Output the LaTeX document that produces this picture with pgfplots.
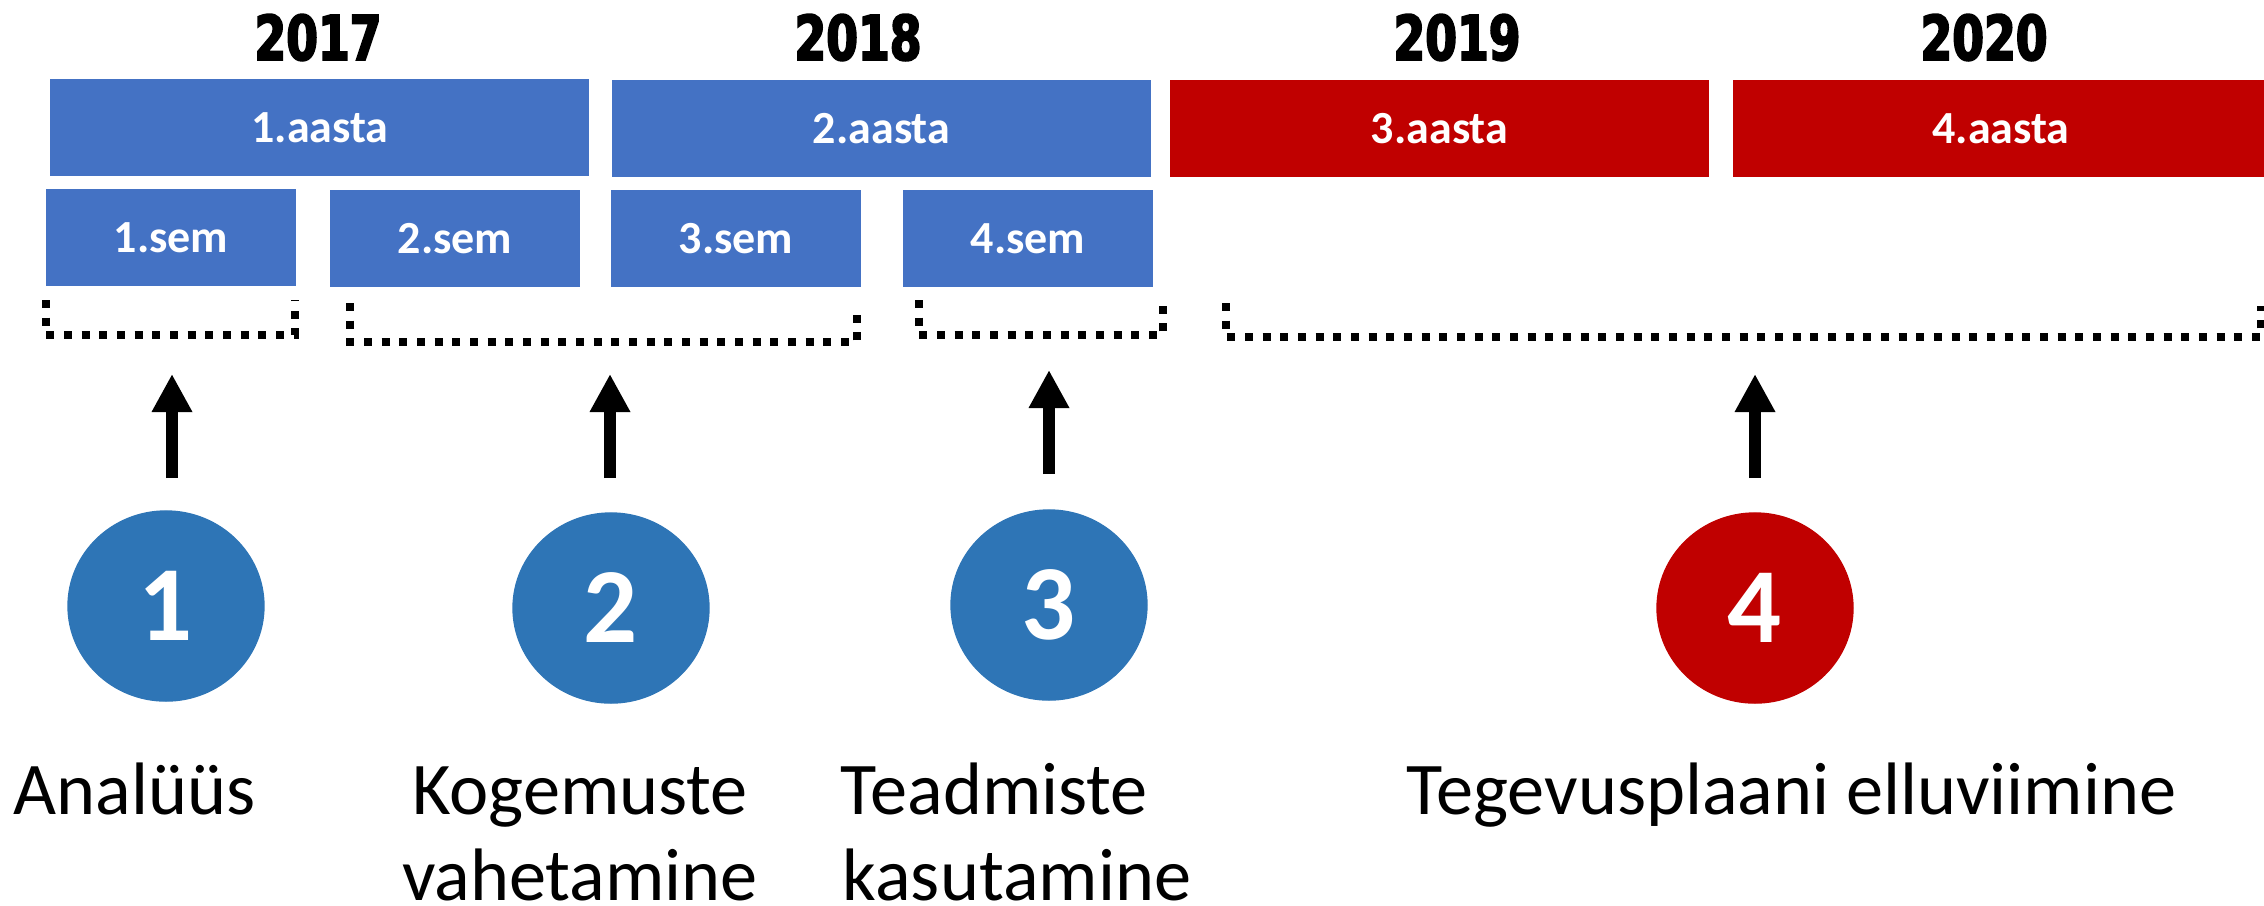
\documentclass[border=0pt]{standalone}
\usepackage{pgfplots}
\pgfplotsset{compat=1.18}
\usetikzlibrary{arrows.meta}
\usepackage{fontspec}
\setmainfont{Carlito}
\newfontfamily\yearfont[FakeStretch=0.74, FakeBold=3]{DejaVu Sans}
\definecolor{boxblue}{HTML}{4472C4}
\definecolor{circblue}{HTML}{2E75B6}
\definecolor{darkred}{HTML}{C00000}
\begin{document}
\begin{tikzpicture}
\begin{axis}[
  width=679.2pt, height=271.5pt, scale only axis,
  xmin=0, xmax=2264, ymin=0, ymax=905, y dir=reverse,
  hide axis, clip=false,
  every node/.style={inner sep=0pt, outer sep=0pt},
]
\coordinate (BL) at (rel axis cs:0,0);
\coordinate (TR) at (rel axis cs:1,1);
% year boxes
\addplot[fill=boxblue, draw=none] coordinates {(50,79) (589,79) (589,176) (50,176)} -- cycle;
\addplot[fill=boxblue, draw=none] coordinates {(612,80) (1151,80) (1151,177) (612,177)} -- cycle;
\addplot[fill=darkred, draw=none] coordinates {(1170,80) (1709,80) (1709,177) (1170,177)} -- cycle;
\addplot[fill=darkred, draw=none] coordinates {(1733,80) (2264,80) (2264,177) (1733,177)} -- cycle;
% semester boxes
\addplot[fill=boxblue, draw=none] coordinates {(46,189) (296,189) (296,286) (46,286)} -- cycle;
\addplot[fill=boxblue, draw=none] coordinates {(330,190) (580,190) (580,287) (330,287)} -- cycle;
\addplot[fill=boxblue, draw=none] coordinates {(611,190) (861,190) (861,287) (611,287)} -- cycle;
\addplot[fill=boxblue, draw=none] coordinates {(903,190) (1153,190) (1153,287) (903,287)} -- cycle;
% dotted brackets
\addplot[black, line width=2.4pt, dash pattern=on 2.4pt off 2.9pt] coordinates {(46,300) (46,335) (295,335) (295,300)};
\addplot[black, line width=2.4pt, dash pattern=on 2.4pt off 2.9pt] coordinates {(350,303) (350,342) (857,342) (857,306)};
\addplot[black, line width=2.4pt, dash pattern=on 2.4pt off 2.9pt] coordinates {(919,300) (919,335) (1163,335) (1163,300)};
\addplot[black, line width=2.4pt, dash pattern=on 2.4pt off 2.9pt] coordinates {(1226,303) (1226,337) (2261,337) (2261,306)};
% arrows
\addplot[black, line width=3.6pt, -{Triangle[width=11.4pt,length=11.4pt]}] coordinates {(172,478) (172,374)};
\addplot[black, line width=3.6pt, -{Triangle[width=11.4pt,length=11.4pt]}] coordinates {(610,478) (610,374)};
\addplot[black, line width=3.6pt, -{Triangle[width=11.4pt,length=11.4pt]}] coordinates {(1049,474) (1049,370)};
\addplot[black, line width=3.6pt, -{Triangle[width=11.4pt,length=11.4pt]}] coordinates {(1755,478) (1755,374)};
% circles with numbers
\addplot[circblue, only marks, mark=*, mark size=29.4pt,
  mark options={fill=circblue, draw=circblue, yscale=0.97},
  point meta=explicit symbolic, nodes near coords,
  every node near coord/.style={anchor=center, text=white, font=\bfseries\fontsize{32pt}{36pt}\selectfont}]
  coordinates {(166,606) [1] (611,608) [2] (1049,605) [3]};
\addplot[darkred, only marks, mark=*, mark size=29.4pt,
  mark options={fill=darkred, draw=darkred, yscale=0.97},
  point meta=explicit symbolic, nodes near coords,
  every node near coord/.style={anchor=center, text=white, font=\bfseries\fontsize{32pt}{36pt}\selectfont}]
  coordinates {(1755,608) [4]};
% year labels
\foreach \x/\t in {318/2017, 858/2018, 1457/2019, 1984/2020}{
  \edef\temp{\noexpand\node[font=\noexpand\yearfont\noexpand\bfseries\noexpand\fontsize{18.5pt}{20pt}\noexpand\selectfont] at (axis cs:\x,37.5) {\t};}
  \temp
}
% box labels
\foreach \x/\y/\t in {320/127.5/1.aasta, 881.5/128.5/2.aasta, 1439.5/128.5/3.aasta, 2001/128.5/4.aasta,
  171/237.5/1.sem, 455/238.5/2.sem, 736/238.5/3.sem, 1028/238.5/4.sem}{
  \edef\temp{\noexpand\node[text=white, font=\noexpand\bfseries\noexpand\fontsize{13.8pt}{16pt}\noexpand\selectfont] at (axis cs:\x,\y) {\t};}
  \temp
}
% bottom labels
\node[anchor=base west, font=\fontsize{22.3pt}{26pt}\selectfont] at (axis cs:2,814) {Analüüs};
\node[anchor=base, font=\fontsize{22.3pt}{26pt}\selectfont] at (axis cs:580,814) {Kogemuste};
\node[anchor=base, font=\fontsize{22.3pt}{26pt}\selectfont] at (axis cs:580,900) {vahetamine};
\node[anchor=base west, font=\fontsize{22.3pt}{26pt}\selectfont] at (axis cs:829,814) {Teadmiste};
\node[anchor=base west, font=\fontsize{22.3pt}{26pt}\selectfont] at (axis cs:831,900) {kasutamine};
\node[anchor=base west, font=\fontsize{22.3pt}{26pt}\selectfont] at (axis cs:1395,814) {Tegevusplaani elluviimine};
\end{axis}
\pgfresetboundingbox
\path[use as bounding box] (BL) rectangle (TR);
\end{tikzpicture}
\end{document}
